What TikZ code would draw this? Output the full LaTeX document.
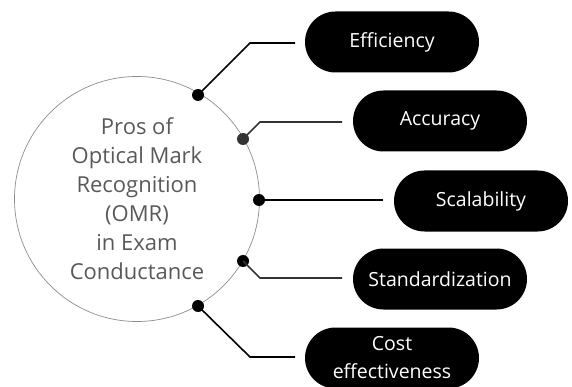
\documentclass[tikz,border=0pt]{standalone}
\usepackage{fontspec}
\setmainfont{Open Sans}
\usetikzlibrary{shapes.misc}
\begin{document}
\begin{tikzpicture}[x=1pt, y=-1pt, thick]
\tikzset{
  pill/.style={rounded rectangle, fill=black, text=white, minimum width=174pt,
    minimum height=61pt, inner sep=0pt, align=center,
    font=\fontsize{19.5}{28}\selectfont},
  dot/.style={circle, fill=black, inner sep=0pt, minimum size=12pt},
  link/.style={line width=1.6pt}
}
\useasboundingbox (0,0) rectangle (572,387);

% centre circle
\node[circle, draw=gray!90, line width=0.7pt, minimum size=245pt, inner sep=0pt,
  align=center, text=black!65, font=\fontsize{22}{29}\selectfont]
  (core) at (137,199) {Pros of\\Optical Mark\\Recognition\\(OMR)\\in Exam\\Conductance};

% pills
\node[pill] (eff) at (392,42) {Efficiency};
\node[pill] (acc) at (440,121) {Accuracy};
\node[pill] (sca) at (481,201) {Scalability};
\node[pill] (std) at (440,279) {Standardization};
\node[pill] (cost) at (392,358) {Cost\\effectiveness};

% dots on the circle
\node[dot] (d1) at (198,95) {};
\node[dot, fill=black!80] (d2) at (243,139) {};
\node[dot] (d3) at (259,200) {};
\node[dot] (d4) at (243,261) {};
\node[dot] (d5) at (198,306) {};

% bends
\coordinate (b1) at (250,43);
\coordinate (b2) at (260,122);
\coordinate (b4) at (260,278);
\coordinate (b5) at (250,357);
\coordinate (e1) at (295,43);
\coordinate (e2) at (342,122);
\coordinate (e3) at (383,200);
\coordinate (e4) at (342,278);
\coordinate (e5) at (295,357);

\draw[link] (d1.center) -- (b1) -- (e1);
\draw[link, black!80] (d2.center) -- (b2) -- (e2);
\draw[link] (d3.center) -- (e3);
\draw[link, black!80] (d4.center) -- (b4) -- (e4);
\draw[link] (d5.center) -- (b5) -- (e5);
\end{tikzpicture}
\end{document}
